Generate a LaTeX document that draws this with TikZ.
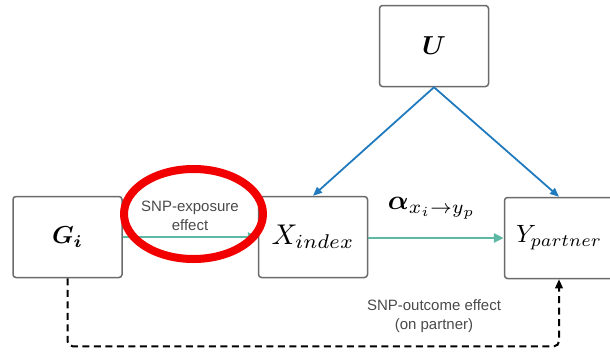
\documentclass[tikz,border=0pt]{standalone}
\usepackage{fontspec}
\usepackage{amsmath}
\usepackage{graphicx}
\newfontfamily\labelfont{Liberation Sans}
\usetikzlibrary{arrows.meta,shapes.geometric}
\definecolor{boxgray}{HTML}{6B6B6B}
\definecolor{labelgray}{HTML}{4A4A4A}
\definecolor{tealarrow}{HTML}{5DB8A4}
\definecolor{bluearrow}{HTML}{1F7BBE}
\definecolor{markred}{HTML}{F20000}
\tikzset{
  varbox/.style={draw=boxgray, line width=1.5pt, rounded corners=3pt, fill=white,
    minimum width=109pt, minimum height=81pt, inner sep=0pt, text=black},
  effect/.style={draw=tealarrow, line width=2.6pt, -{Triangle[length=10pt,width=9pt]}},
  confound/.style={draw=bluearrow, line width=1.8pt, -{Triangle[length=9pt,width=7.5pt]}},
  pleio/.style={draw=black, line width=2pt, dash pattern=on 7pt off 4.5pt, rounded corners=5pt,
    -{Triangle[length=9pt,width=7.5pt]}},
  note/.style={font=\labelfont\fontsize{15}{19}\selectfont, text=labelgray, align=center, inner sep=0pt},
  highlight/.style={draw=markred, line width=8pt, ellipse, inner sep=0pt}
}
\begin{document}
\begin{tikzpicture}[x=1pt,y=-1pt]
  \useasboundingbox (0,0) rectangle (610,351);
  \clip (0,0) rectangle (610,351);

  % variables
  \node[varbox] (U) at (434,46) {\scalebox{2.6}{$\boldsymbol{U}$}};
  \node[varbox] (G) at (67.5,237) {\scalebox{2.45}{$\boldsymbol{G_i}$}};
  \node[varbox] (X) at (313,237) {\scalebox{2.85}{$X_{index}$}};
  \node[varbox] (Y) at (559,238) {\scalebox{2.5}{$Y_{partner}$}};

  % causal paths
  \draw[effect] (G.east |- 0,237) -- (X.west |- 0,237);
  \draw[effect] (X.east |- 0,238) -- (Y.west |- 0,238);
  \draw[confound] (U.south) -- (X.north);
  \draw[confound] (U.south) -- (Y.north);
  \draw[pleio] (G.south) -- ++(0,68) -| (Y.south);

  % labels
  \node[note] (snpexp) at (190,216) {SNP-exposure\\effect};
  \node[inner sep=0pt] (alpha) at (432,208) {\scalebox{2.75}{$\boldsymbol{\alpha}_{x_i\rightarrow y_p}$}};
  \node[note] (snpout) at (434,316) {SNP-outcome effect\\(on partner)};

  % emphasis mark
  \node[highlight, minimum width=139pt, minimum height=90pt] (ring) at (193.5,214) {};
\end{tikzpicture}
\end{document}
